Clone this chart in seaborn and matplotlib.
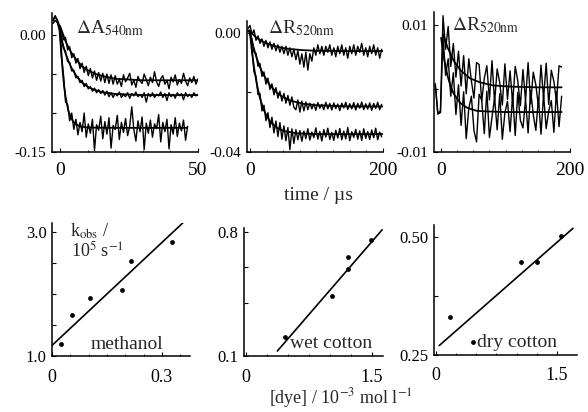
import numpy as np
import matplotlib
matplotlib.use('Agg')
import matplotlib.pyplot as plt
import seaborn as sns

sns.set_style('ticks')
plt.rcParams['font.family'] = ['Liberation Serif', 'DejaVu Serif']
plt.rcParams['mathtext.fontset'] = 'stix'

# ---------------- top row: transient traces ----------------
# panel 1: Delta A 540 nm (methanol), time in us
t1 = np.linspace(-2.5, 50, 71)
t1c = np.linspace(-2.5, 46.25, 66)
a540_slow = [0.018, 0.024, 0.020, 0.013, 0.004, -0.006, -0.003, -0.019, -0.015, -0.029,
             -0.024, -0.036, -0.030, -0.043, -0.036, -0.048, -0.040, -0.052, -0.043, -0.055,
             -0.046, -0.058, -0.048, -0.059, -0.049, -0.061, -0.050, -0.062, -0.051, -0.063,
             -0.052, -0.063, -0.057, -0.066, -0.051, -0.060, -0.055, -0.049, -0.064, -0.058,
             -0.067, -0.053, -0.059, -0.062, -0.050, -0.057, -0.065, -0.054, -0.061, -0.047,
             -0.060, -0.066, -0.056, -0.052, -0.063, -0.058, -0.069, -0.054, -0.060, -0.051,
             -0.064, -0.057, -0.062, -0.049, -0.059, -0.065, -0.055, -0.061, -0.053, -0.063,
             -0.056]
a540_mid = [0.015, 0.019, 0.016, 0.009, -0.002, -0.017, -0.021, -0.034, -0.035, -0.046,
            -0.045, -0.055, -0.053, -0.061, -0.058, -0.066, -0.062, -0.069, -0.066, -0.072,
            -0.068, -0.074, -0.070, -0.075, -0.071, -0.077, -0.072,
            -0.079, -0.074, -0.080, -0.075, -0.078, -0.073, -0.080, -0.076, -0.079, -0.074,
            -0.081, -0.075, -0.078, -0.073, -0.079, -0.076, -0.080, -0.074, -0.086, -0.075,
            -0.079, -0.074, -0.080, -0.076, -0.078, -0.073, -0.080, -0.075, -0.084, -0.074,
            -0.079, -0.076, -0.081, -0.074, -0.078, -0.075, -0.083, -0.074, -0.079, -0.076,
            -0.080, -0.074, -0.078, -0.076]
a540_fast = [0.020, 0.025, 0.018, 0.006, -0.028, -0.050, -0.086, -0.089, -0.110, -0.100,
             -0.121, -0.108, -0.128, -0.112, -0.124, -0.100, -0.131, -0.114, -0.126, -0.108,
             -0.148, -0.115, -0.122, -0.104, -0.133, -0.111, -0.127, -0.106, -0.145, -0.116,
             -0.121, -0.103, -0.134, -0.112, -0.125, -0.107, -0.129, -0.117, -0.092, -0.121,
             -0.136, -0.110, -0.124, -0.105, -0.147, -0.113, -0.126, -0.109, -0.131, -0.114,
             -0.120, -0.102, -0.137, -0.112, -0.124, -0.108, -0.146, -0.115, -0.127, -0.106,
             -0.130, -0.113, -0.123, -0.109, -0.135, -0.117]
fit1_t = [0, 2, 4, 6, 8, 10, 13, 16, 20, 25, 30, 40, 50]
fit1_slow = [0.012, -0.008, -0.022, -0.032, -0.040, -0.045, -0.050, -0.053, -0.056, -0.057, -0.058, -0.058, -0.058]
fit1m_t = [0, 1, 2, 3, 4, 6, 8, 10, 12, 15, 20, 30, 50]
fit1_mid = [0.003, -0.0115, -0.0234, -0.033, -0.041, -0.053, -0.061, -0.0662, -0.0697, -0.073, -0.0755, -0.0769, -0.077]
fit1f_t = [0, 0.5, 1, 1.5, 2, 3, 4, 5, 7, 10, 20, 46]
fit1_fast = [0.011, -0.0221, -0.0478, -0.066, -0.079, -0.0967, -0.1065, -0.1118, -0.1169, -0.1186, -0.119, -0.119]

# panel 2: Delta R 520 nm (wet cotton)
t2 = np.arange(-3, 199, 3)
r520_top = [0.0015, 0.0025, -0.0005, 0.0010, -0.0025, -0.0010, -0.0035, -0.0020, -0.0045, -0.0025,
            -0.0050, -0.0030, -0.0055, -0.0035, -0.0060, -0.0040, -0.0065, -0.0045, -0.0070, -0.0045,
            -0.0075, -0.0050, -0.0080, -0.0055, -0.0090, -0.0060, -0.0105, -0.0070, -0.0115, -0.0065,
            -0.0125, -0.0070, -0.0095, -0.0050, -0.0075, -0.0040, -0.0070, -0.0045, -0.0075, -0.0045,
            -0.0065, -0.0040, -0.0075, -0.0050, -0.0080, -0.0045, -0.0070, -0.0040, -0.0075, -0.0050,
            -0.0085, -0.0045, -0.0070, -0.0040, -0.0075, -0.0045, -0.0065, -0.0035, -0.0075, -0.0050,
            -0.0080, -0.0045, -0.0070, -0.0040, -0.0075, -0.0050, -0.0085, -0.0055]
r520_mid = [0.0010, -0.0005, -0.0020, -0.0065, -0.0068, -0.0112, -0.0103, -0.0146, -0.0131, -0.0172,
            -0.0152, -0.0190, -0.0171, -0.0208, -0.0184, -0.0219, -0.0196, -0.0229, -0.0203, -0.0236,
            -0.0210, -0.0243, -0.0215, -0.0250, -0.0258, -0.0225, -0.0266, -0.0229, -0.0262, -0.0232,
            -0.0258, -0.0236, -0.0255, -0.0238, -0.0260, -0.0234, -0.0253, -0.0240, -0.0258, -0.0233,
            -0.0255, -0.0237, -0.0259, -0.0235, -0.0254, -0.0239, -0.0261, -0.0236, -0.0252, -0.0233,
            -0.0257, -0.0238, -0.0255, -0.0234, -0.0259, -0.0237, -0.0253, -0.0232, -0.0258, -0.0238,
            -0.0256, -0.0235, -0.0260, -0.0237, -0.0254, -0.0233, -0.0258, -0.0240]
r520_low = [0.0005, 0.0010, -0.0052, -0.0131, -0.0146, -0.0207, -0.0204, -0.0262, -0.0243, -0.0295,
            -0.0268, -0.0318, -0.0283, -0.0336, -0.0296, -0.0348, -0.0301, -0.0357, -0.0312, -0.0362,
            -0.0318, -0.0392, -0.0322, -0.0371, -0.0325, -0.0359, -0.0328, -0.0364, -0.0330, -0.0355,
            -0.0322, -0.0360, -0.0333, -0.0352, -0.0319, -0.0357, -0.0331, -0.0363, -0.0325, -0.0350,
            -0.0320, -0.0358, -0.0334, -0.0361, -0.0327, -0.0353, -0.0321, -0.0359, -0.0330, -0.0356,
            -0.0318, -0.0362, -0.0332, -0.0351, -0.0324, -0.0357, -0.0329, -0.0361, -0.0322, -0.0354,
            -0.0331, -0.0358, -0.0326, -0.0352, -0.0320, -0.0359, -0.0333, -0.0349]
fit2t_t = [0, 10, 20, 30, 40, 50, 60, 80, 100, 150, 200]
fit2_top = [0.0005, -0.0017, -0.003, -0.0039, -0.0046, -0.0051, -0.0054, -0.0058, -0.006, -0.0061, -0.0061]
fit2m_t = [0, 5, 10, 15, 20, 30, 40, 50, 60, 80, 100, 150, 200]
fit2_mid = [0.0, -0.0046, -0.0084, -0.0115, -0.0140, -0.0176, -0.0200, -0.0216, -0.0227, -0.0238, -0.0243, -0.0247, -0.0247]
fit2l_t = [0, 3, 6, 10, 15, 20, 25, 30, 40, 50, 70, 100, 200]
fit2_low = [0.0, -0.0064, -0.0115, -0.0169, -0.0219, -0.0255, -0.0279, -0.0297, -0.0318, -0.0329, -0.0337, -0.0340, -0.0340]

# panel 3: Delta R 520 nm (dry cotton)
t3 = np.arange(-9, 188, 4)
r520d_up = [0.0008, -0.0040, -0.0035, 0.0115, 0.0062, 0.0098, 0.0035, 0.0071, 0.0018, 0.0059,
            0.0004, 0.0052, -0.0008, 0.0047, 0.0012, -0.0015, 0.0041, 0.0038, -0.0020, 0.0016,
            0.0036, -0.0018, 0.0044, -0.0022, 0.0031, 0.0009, -0.0026, 0.0039, -0.0017, 0.0028,
            -0.0023, 0.0035, 0.0012, -0.0027, 0.0030, -0.0019, 0.0041, -0.0024, 0.0026, 0.0006,
            -0.0028, 0.0037, -0.0016, 0.0040, -0.0025, 0.0029, 0.0011, -0.0020, 0.0036, 0.0034]
r520d_low = [0.0005, -0.0040, -0.0038, 0.0082, 0.0021, 0.0047, -0.0012, 0.0025, -0.0041, 0.0006,
             -0.0058, -0.0005, -0.0079, -0.0031, -0.0012, -0.0066, -0.0084, -0.0009, -0.0018, -0.0071,
             -0.0004, -0.0077, -0.0045, -0.0015, -0.0065, -0.0008, -0.0080, -0.0038, -0.0020, -0.0068,
             -0.0011, -0.0074, -0.0006, -0.0050, -0.0062, -0.0017, -0.0070, -0.0003, -0.0041, -0.0066,
             -0.0014, -0.0072, -0.0009, -0.0063, -0.0035, -0.0019, -0.0069, -0.0005, -0.0060, -0.0012]
fit3u_t = [3, 10, 20, 30, 45, 60, 80, 110, 150, 187]
fit3_up = [0.0086, 0.0065, 0.0043, 0.0029, 0.0016, 0.0010, 0.0005, 0.0003, 0.0002, 0.0002]
fit3l_t = [0, 5, 10, 15, 20, 30, 40, 55, 70, 100, 187]
fit3_low = [0.0080, 0.0045, 0.0020, 0.0003, -0.0009, -0.0023, -0.0030, -0.0035, -0.0036, -0.0037, -0.0037]

# ---------------- bottom row: k_obs vs [dye] ----------------
meth_dye = [0.025, 0.055, 0.104, 0.19, 0.215, 0.328]
meth_k = [1.19, 1.66, 1.93, 2.07, 2.54, 2.84]
meth_fit_x = [0.0, 0.358]
meth_fit_y = [1.17, 3.15]

wet_dye = [0.47, 1.03, 1.215, 1.215, 1.49]
wet_k = [0.207, 0.44, 0.59, 0.656, 0.752]
wet_fit_x = [0.376, 1.62]
wet_fit_y = [0.128, 0.81]

dry_dye = [0.174, 0.46, 1.057, 1.25, 1.546]
dry_k = [0.33, 0.278, 0.447, 0.447, 0.502]
dry_fit_x = [0.04, 1.70]
dry_fit_y = [0.27, 0.518]

W, H = 588, 412
fig = plt.figure(figsize=(W / 100, H / 100), dpi=100)


def add_ax(l, t, r, b):
    return fig.add_axes([l / W, 1 - b / H, (r - l) / W, (b - t) / H])


def label(x, y, s, size):
    fig.text(x / W, 1 - y / H, s, fontsize=size, ha='left', va='baseline')


def style(ax, xsize, ysize, xpad, ypad):
    sns.despine(ax=ax)
    for s in ['left', 'bottom']:
        ax.spines[s].set_linewidth(1.1)
        ax.spines[s].set_color('k')
    ax.tick_params(which='major', direction='in', length=3, width=0.8, colors='k')
    ax.tick_params(which='minor', direction='in', length=1.5, width=0.6, colors='k')
    ax.tick_params(axis='x', labelsize=xsize, pad=xpad)
    ax.tick_params(axis='y', labelsize=ysize, pad=ypad)
    ax.set_xlabel('')
    ax.set_ylabel('')


def trace(ax, t, y, lw=1.0):
    sns.lineplot(x=t, y=y, ax=ax, color='k', lw=lw, estimator=None, sort=False)


# panel 1
ax1 = add_ax(52, 12.5, 198, 152)
for y in [a540_slow, a540_mid]:
    trace(ax1, t1, y)
trace(ax1, t1c, a540_fast)
for tt, yy in [(fit1_t, fit1_slow), (fit1m_t, fit1_mid), (fit1f_t, fit1_fast)]:
    trace(ax1, tt, yy, lw=1.3)
ax1.set_xlim(-2.9, 50)
ax1.set_ylim(-0.15, 0.029)
ax1.set_xticks([0, 50], ['0', '50'])
ax1.set_xticks(np.arange(10, 50, 10), minor=True)
ax1.set_yticks([-0.15, -0.10, -0.05, 0.0], ['-0.15', '', '', '0.00'])
style(ax1, 14, 11, 7, 4)

# panel 2
ax2 = add_ax(247, 21, 383, 152)
for y in [r520_top, r520_mid, r520_low]:
    trace(ax2, t2, y)
for tt, yy in [(fit2t_t, fit2_top), (fit2m_t, fit2_mid), (fit2l_t, fit2_low)]:
    trace(ax2, tt, yy, lw=1.3)
ax2.set_xlim(-4.5, 200)
ax2.set_ylim(-0.04, 0.004)
ax2.set_xticks([0, 200], ['0', '200'])
ax2.set_xticks(np.arange(25, 200, 25), minor=True)
ax2.set_yticks([-0.04, -0.02, 0.0], ['-0.04', '', '0.00'])
style(ax2, 14, 11, 7, 4)

# panel 3
ax3 = add_ax(434, 12.5, 570, 152)
for y in [r520d_up, r520d_low]:
    trace(ax3, t3, y)
for tt, yy in [(fit3u_t, fit3_up), (fit3l_t, fit3_low)]:
    trace(ax3, tt, yy, lw=1.3)
ax3.set_xlim(-11, 200)
ax3.set_ylim(-0.01, 0.012)
ax3.set_xticks([0, 200], ['0', '200'])
ax3.set_xticks(np.arange(25, 200, 25), minor=True)
ax3.set_yticks([-0.01, 0.0, 0.01], ['-0.01', '', '0.01'])
style(ax3, 14, 11, 7, 4)

# panel 4
ax4 = add_ax(52, 223, 190, 356)
sns.scatterplot(x=meth_dye, y=meth_k, ax=ax4, color='k', s=12, linewidth=0)
trace(ax4, meth_fit_x, meth_fit_y, lw=1.2)
ax4.set_xlim(0, 0.377)
ax4.set_ylim(1.0, 3.145)
ax4.set_xticks([0, 0.3], ['0', '0.3'])
ax4.set_xticks(np.arange(0.05, 0.36, 0.05), minor=True)
ax4.set_yticks([1.0, 1.5, 2.0, 2.5, 3.0], ['1.0', '', '', '', '3.0'])
style(ax4, 13, 12, 9, 4)

# panel 5
ax5 = add_ax(244, 228, 383, 356)
sns.scatterplot(x=wet_dye, y=wet_k, ax=ax5, color='k', s=12, linewidth=0)
trace(ax5, wet_fit_x, wet_fit_y, lw=1.2)
ax5.set_xlim(-0.02, 1.63)
ax5.set_ylim(0.1, 0.82)
ax5.set_xticks([0, 1.5], ['0', '1.5'])
ax5.set_xticks(np.arange(0.25, 1.6, 0.25), minor=True)
ax5.set_yticks([0.1, 0.4, 0.6, 0.8], ['0.1', '', '', '0.8'])
style(ax5, 13, 12, 9, 4)

# panel 6
ax6 = add_ax(434, 225, 577, 355)
sns.scatterplot(x=dry_dye, y=dry_k, ax=ax6, color='k', s=12, linewidth=0)
trace(ax6, dry_fit_x, dry_fit_y, lw=1.2)
ax6.set_xlim(-0.025, 1.75)
ax6.set_ylim(0.25, 0.525)
ax6.set_xticks([0, 1.5], ['0', '1.5'])
ax6.set_xticks(np.arange(0.25, 1.75, 0.25), minor=True)
ax6.set_yticks([0.25, 0.375, 0.50], ['0.25', '', '0.50'])
style(ax6, 13, 12, 9, 4)

# in-panel labels
label(76, 33, r'$\Delta$A$_{540\mathrm{nm}}$', 14)
label(268, 33, r'$\Delta$R$_{520\mathrm{nm}}$', 14)
label(452, 30, r'$\Delta$R$_{520\mathrm{nm}}$', 14)
label(70, 237, r'k$_{\mathrm{obs}}$ /', 13)
label(71, 257, r'10$^{5}$ s$^{-1}$', 13)
label(91, 349, 'methanol', 14)
label(290, 348, 'wet cotton', 14)
label(477, 347, 'dry cotton', 14)

# shared axis titles
fig.text(318 / W, 1 - 195 / H, 'time / µs', fontsize=14, ha='center', va='center')
fig.text(341 / W, 1 - 403 / H, r'[dye] / 10$^{-3}$ mol l$^{-1}$', fontsize=13, ha='center', va='baseline')

fig.savefig('out.png', dpi=100, facecolor='white')
